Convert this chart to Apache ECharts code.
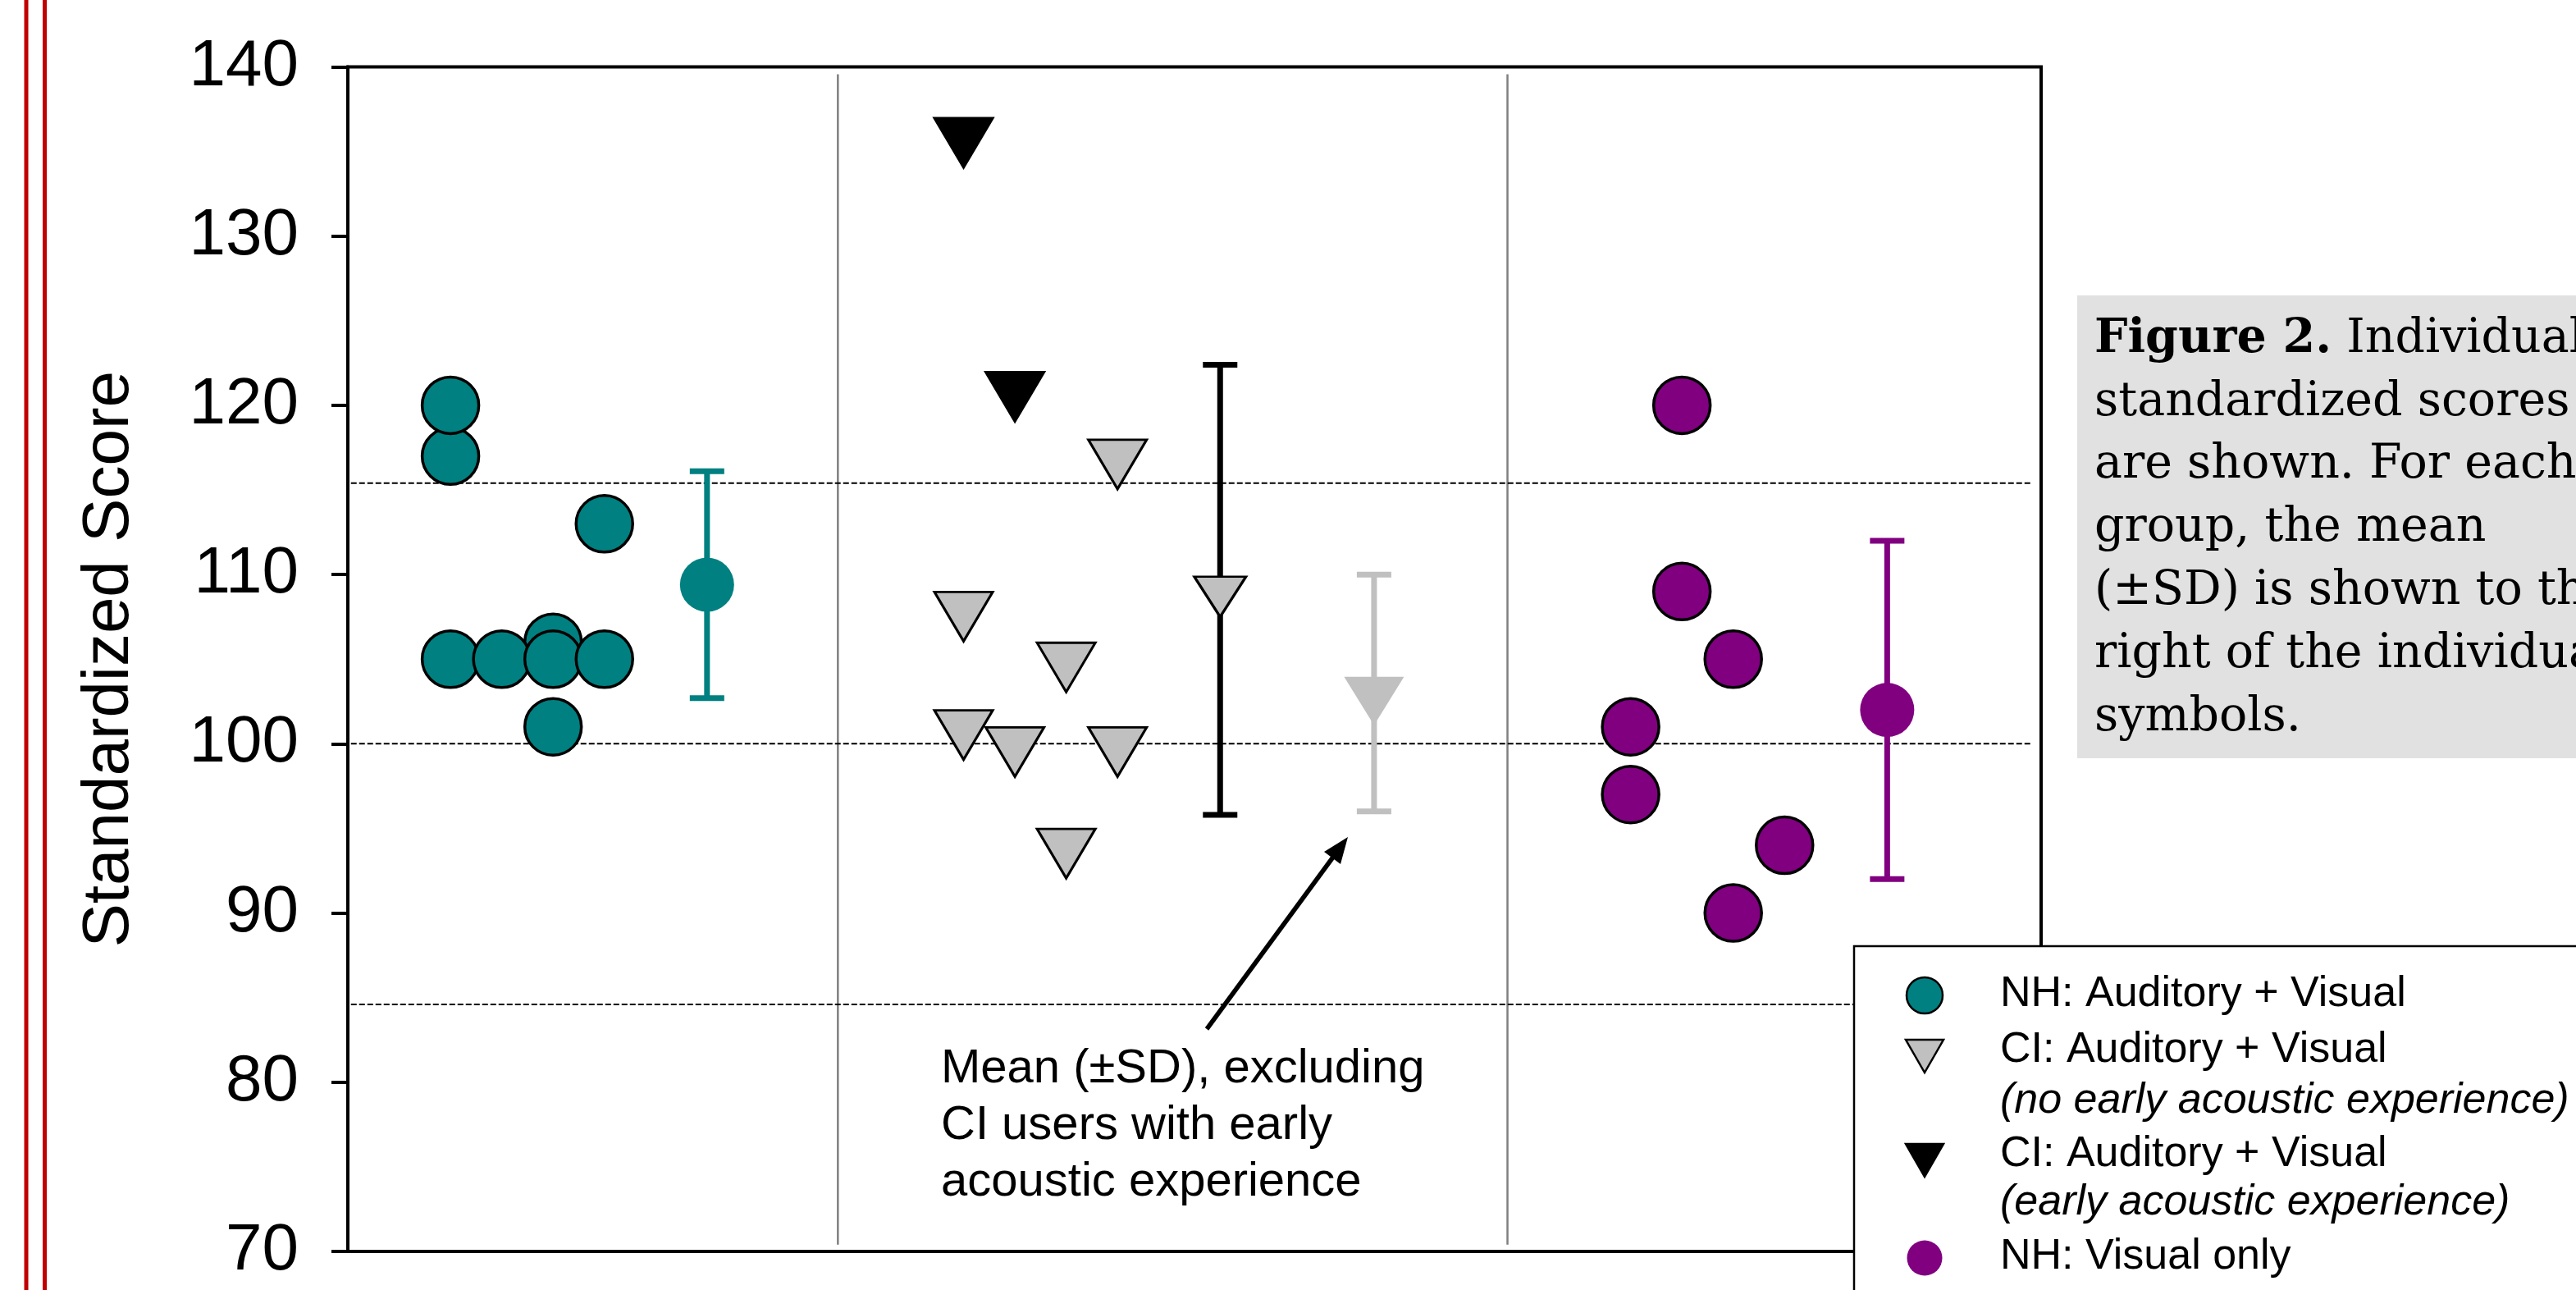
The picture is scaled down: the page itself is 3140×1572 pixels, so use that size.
<!DOCTYPE html>
<html><head><meta charset="utf-8">
<script src="https://cdn.jsdelivr.net/npm/echarts@6/dist/echarts.min.js"></script>
<style>html,body{margin:0;padding:0;background:#fff}#c{width:3140px;height:1572px}</style>
</head><body><div id="c"></div>
<script>
// ---------------- data ----------------
const yTicks = [70, 80, 90, 100, 110, 120, 130, 140];
// individual scores: slot = horizontal column index on the plot
const nhAVSlots  = [2, 2, 4, 2, 3, 4, 5, 4, 5];
const nhAVScores = [117, 120, 106, 105, 105, 105, 105, 101, 113];
const ciNoEarlySlots  = [12, 12, 13, 14, 14, 15, 15];
const ciNoEarlyScores = [108, 101, 100, 105, 94, 117, 100];
const ciEarlySlots  = [12, 13];
const ciEarlyScores = [136, 121];
const nhVSlots  = [25, 25, 26, 26, 27, 27, 28];
const nhVScores = [101, 97, 120, 109, 105, 90, 94];
// group means (±SD)
const meanNames  = ['NH: Auditory + Visual (mean)', 'CI: Auditory + Visual (mean)', 'CI excluding early acoustic (mean)', 'NH: Visual only (mean)'];
const meanSlots  = [7, 17, 20, 30];
const meanValues = [109.4, 109.1, 103.0, 102.0];
const sdLow      = [102.7, 95.8, 96.0, 92.0];
const sdHigh     = [116.1, 122.4, 110.0, 112.0];
// reference lines and group dividers
const refLines = [115.4, 100, 84.6];
const dividerSlots = [9.55, 22.6];

// ---------------- styles ----------------
const TEAL = '#008080', PURPLE = '#800080', GRAY = '#c0c0c0', BLACK = '#000000';
const barColors = [TEAL, BLACK, GRAY, PURPLE];
const TRI = 'path://M0,0 L100,0 L50,86.6 Z';
const SANS = 'Liberation Sans, Arial, sans-serif';
const SERIF = 'DejaVu Serif, serif';

const chart = echarts.init(document.getElementById('c'), null, {renderer: 'canvas'});

const pts = (xs, ys) => xs.map((x, i) => [x, ys[i]]);

const series = [];
dividerSlots.forEach(x => series.push({
  type: 'line', silent: true, symbol: 'none', z: 1,
  data: [[x, 139.56], [x, 70.4]],
  lineStyle: {color: '#808080', width: 2.5}
}));
refLines.forEach(v => series.push({
  type: 'line', silent: true, symbol: 'none', z: 1,
  data: [[0.06, v], [32.8, v]],
  lineStyle: {color: '#000', width: 2, type: [7, 3]}
}));
series.push({
  name: 'NH: Auditory + Visual', type: 'scatter', silent: true, z: 3,
  data: pts(nhAVSlots, nhAVScores), symbol: 'circle', symbolSize: 69,
  itemStyle: {color: TEAL, borderColor: '#000', borderWidth: 3.5, opacity: 1}
});
series.push({
  name: 'CI: Auditory + Visual (no early acoustic experience)', type: 'scatter', silent: true, z: 3,
  data: pts(ciNoEarlySlots, ciNoEarlyScores), symbol: TRI, symbolSize: [71, 60], symbolOffset: [0, 10],
  itemStyle: {color: GRAY, borderColor: '#000', borderWidth: 3, opacity: 1}
});
series.push({
  name: 'CI: Auditory + Visual (early acoustic experience)', type: 'scatter', silent: true, z: 3,
  data: pts(ciEarlySlots, ciEarlyScores), symbol: TRI, symbolSize: [71, 60], symbolOffset: [0, 10],
  itemStyle: {color: BLACK, borderColor: '#000', borderWidth: 3, opacity: 1}
});
series.push({
  name: 'NH: Visual only', type: 'scatter', silent: true, z: 3,
  data: pts(nhVSlots, nhVScores), symbol: 'circle', symbolSize: 69,
  itemStyle: {color: PURPLE, borderColor: '#000', borderWidth: 3.5, opacity: 1}
});
series.push({
  name: 'Mean ± SD', type: 'custom', silent: true, z: 4,
  data: meanSlots.map((s, i) => [s, sdLow[i], sdHigh[i]]),
  encode: {x: 0, y: [1, 2]},
  renderItem: (params, api) => {
    const x = api.value(0), lo = api.value(1), hi = api.value(2);
    const a = api.coord([x, lo]), b = api.coord([x, hi]);
    const col = barColors[params.dataIndex];
    const cw = 21, lw = 7;
    return {type: 'group', children: [
      {type: 'line', shape: {x1: a[0], y1: a[1], x2: b[0], y2: b[1]}, style: {stroke: col, lineWidth: lw}},
      {type: 'line', shape: {x1: a[0] - cw, y1: a[1], x2: a[0] + cw, y2: a[1]}, style: {stroke: col, lineWidth: lw}},
      {type: 'line', shape: {x1: b[0] - cw, y1: b[1], x2: b[0] + cw, y2: b[1]}, style: {stroke: col, lineWidth: lw}}
    ]};
  }
});
const meanStyles = [
  {symbol: 'circle', symbolSize: 66, symbolOffset: [0, 0], itemStyle: {color: TEAL, borderWidth: 0, opacity: 1}},
  {symbol: TRI, symbolSize: [63, 49], symbolOffset: [0, 8.5], itemStyle: {color: GRAY, borderColor: '#000', borderWidth: 3, opacity: 1}},
  {symbol: TRI, symbolSize: [73, 59], symbolOffset: [0, 9.8], itemStyle: {color: GRAY, borderWidth: 0, opacity: 1}},
  {symbol: 'circle', symbolSize: 66, symbolOffset: [0, 0], itemStyle: {color: PURPLE, borderWidth: 0, opacity: 1}}
];
meanSlots.forEach((s, i) => series.push(Object.assign({
  name: meanNames[i], type: 'scatter', silent: true, z: 5,
  data: [[s, meanValues[i]]]
}, meanStyles[i])));

// ---------------- decorations (legend box, caption, annotation) ----------------
const captionLines = [
  '{b|Figure 2.} Individual',
  'standardized scores',
  'are shown. For each',
  'group, the mean',
  '(±SD) is shown to the',
  'right of the individual',
  'symbols.'
];
const graphics = [
  {type: 'line', z: 50, shape: {x1: 32, y1: 0, x2: 32, y2: 1572}, style: {stroke: '#c00000', lineWidth: 5}},
  {type: 'line', z: 50, shape: {x1: 54.5, y1: 0, x2: 54.5, y2: 1572}, style: {stroke: '#c00000', lineWidth: 5}},
  {type: 'rect', z: 50, shape: {x: 2532, y: 360, width: 700, height: 564}, style: {fill: '#e1e1e1'}}
];
captionLines.forEach((t, i) => graphics.push({
  type: 'text', z: 51, x: 2553, y: 414 + 76.8 * i,
  style: {text: t, fill: '#000', fontFamily: SERIF, fontSize: 57, verticalAlign: 'middle', align: 'left',
    rich: {b: {fontFamily: SERIF, fontSize: 57, fontWeight: 'bold', fill: '#000'}}}
}));
// legend box
graphics.push({type: 'rect', z: 60, shape: {x: 2260, y: 1153, width: 1000, height: 500}, style: {fill: '#fff', stroke: '#000', lineWidth: 2.5}});
graphics.push({type: 'circle', z: 61, shape: {cx: 2346, cy: 1213, r: 22}, style: {fill: TEAL, stroke: '#000', lineWidth: 2.5}});
graphics.push({type: 'polygon', z: 61, shape: {points: [[2323, 1267], [2369, 1267], [2346, 1307]]}, style: {fill: GRAY, stroke: '#000', lineWidth: 2.5}});
graphics.push({type: 'polygon', z: 61, shape: {points: [[2323, 1394], [2369, 1394], [2346, 1434]]}, style: {fill: BLACK, stroke: '#000', lineWidth: 2.5}});
graphics.push({type: 'circle', z: 61, shape: {cx: 2346, cy: 1533, r: 21.5}, style: {fill: PURPLE}});
const legendTexts = [
  ['NH: Auditory + Visual', 1212, 'normal'],
  ['CI: Auditory + Visual', 1280, 'normal'],
  ['(no early acoustic experience)', 1342, 'italic'],
  ['CI: Auditory + Visual', 1407, 'normal'],
  ['(early acoustic experience)', 1466, 'italic'],
  ['NH: Visual only', 1532, 'normal']
];
legendTexts.forEach(([t, y, st]) => graphics.push({
  type: 'text', z: 61, x: 2438, y: y,
  style: {text: t, fill: '#000', fontFamily: SANS, fontSize: 52, fontStyle: st, verticalAlign: 'middle', align: 'left'}
}));
// annotation arrow + text
graphics.push({type: 'line', z: 40, shape: {x1: 1471, y1: 1254, x2: 1626, y2: 1043}, style: {stroke: '#000', lineWidth: 5.5}});
graphics.push({type: 'polygon', z: 40, shape: {points: [[1643, 1020], [1634, 1053], [1614, 1038]]}, style: {fill: '#000'}});
['Mean (±SD), excluding', 'CI users with early', 'acoustic experience'].forEach((t, i) => graphics.push({
  type: 'text', z: 40, x: 1147, y: 1303 + 69 * i,
  style: {text: t, fill: '#000', fontFamily: SANS, fontSize: 58, verticalAlign: 'middle', align: 'left'}
}));

chart.setOption({
  animation: false,
  backgroundColor: '#fff',
  grid: {left: 424, top: 81.5, right: 652, bottom: 47, show: true, borderColor: '#000', borderWidth: 4,
         backgroundColor: 'transparent', containLabel: false, outerBoundsMode: 'none'},
  xAxis: {type: 'value', min: 0, max: 33,
    axisLine: {show: true, lineStyle: {color: '#000', width: 4}},
    axisTick: {show: false}, axisLabel: {show: false}, splitLine: {show: false}},
  yAxis: {type: 'value', min: yTicks[0], max: yTicks[yTicks.length - 1], interval: 10,
    name: 'Standardized Score', nameLocation: 'middle', nameGap: 250, nameMoveOverlap: false,
    nameTextStyle: {fontFamily: SANS, fontSize: 80, color: '#000'},
    axisLine: {show: true, lineStyle: {color: '#000', width: 4}},
    axisTick: {show: true, inside: false, length: 20, lineStyle: {color: '#000', width: 4}},
    axisLabel: {fontFamily: SANS, fontSize: 80, color: '#000', margin: 60,
      formatter: v => yTicks.includes(v) ? String(v) : ''},
    splitLine: {show: false}},
  series: series,
  graphic: graphics
});
</script></body></html>
